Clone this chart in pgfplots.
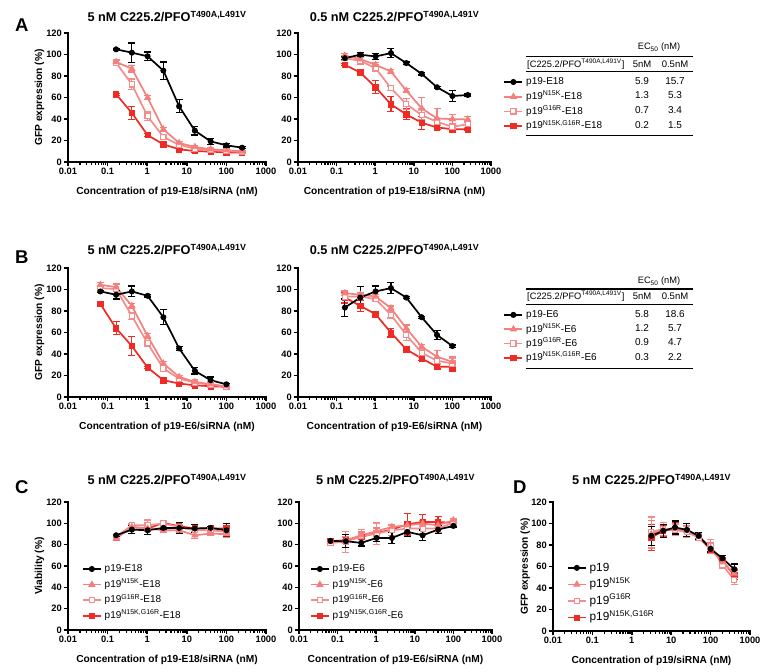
\documentclass[border=0pt]{standalone}
\usepackage{fontspec}
\setmainfont{Liberation Sans}
\usepackage{pgfplots}
\pgfplotsset{compat=1.18}
\definecolor{ctri}{RGB}{244,128,125}
\definecolor{csq}{RGB}{245,140,140}
\definecolor{cred}{RGB}{238,43,36}
\newcommand{\ttl}[1]{#1 nM C225.2/PFO\textsuperscript{T490A,L491V}}
\newcommand{\sups}[1]{\textsuperscript{#1}}
\pgfplotsset{
  mypanel/.style={
    scale only axis, xmin=0.01, xmax=1000, ymin=0, ymax=120,
    axis lines*=left,
    axis line style={line width=1.7pt, line cap=rect},
    xtick={0.01,0.1,1,10,100,1000},
    xticklabels={0.01,0.1,1,10,100,1000},
    minor xtick={0.02,0.03,0.04,0.05,0.06,0.07,0.08,0.09,0.2,0.3,0.4,0.5,0.6,0.7,0.8,0.9,2,3,4,5,6,7,8,9,20,30,40,50,60,70,80,90,200,300,400,500,600,700,800,900},
    ytick={0,20,40,60,80,100,120},
    yticklabels={0,20,40,60,80,100,120},
    tick align=outside,
    major tick length=4.5pt, minor tick length=3pt,
    major tick style={line width=1.5pt, black},
    minor tick style={line width=1.2pt, black},
    tick label style={font=\bfseries\fontsize{9.3}{10}\selectfont, inner sep=1.5pt},
    label style={font=\bfseries\fontsize{10.2}{12}\selectfont},
    title style={font=\bfseries\fontsize{12.7}{14}\selectfont, at={(0.5,1)}, anchor=base},
    xlabel style={at={(0.5,0)}, anchor=base, yshift=-33pt},
    clip=false,
    legend style={draw=none, fill=none, inner sep=0pt, outer sep=0pt, row sep=0pt, column sep=3pt,
      anchor=north west, font=\fontsize{10}{12}\selectfont,
      nodes={inner sep=0pt, text height=10pt, text depth=4.7pt}},
    legend cell align=left,
    legend image code/.code={\draw[mark repeat=2, mark phase=2, ##1] plot coordinates {(0pt,0pt) (9pt,0pt) (18pt,0pt)};},
    reverse legend,
  },
  myeb/.style={error bars/.cd, y dir=both, y explicit,
    error bar style={line width=1.2pt, solid},
    error mark options={rotate=90, line width=1.2pt, mark size=3.5pt}},
  sblk/.style={black, line width=1.7pt, mark=*, mark size=2.6pt, mark options={solid, line width=0.8pt}},
  stri/.style={ctri, line width=1.7pt, mark=triangle*, mark size=3.5pt, mark options={solid, line width=0.8pt}},
  ssq/.style={csq, line width=1.7pt, mark=square*, mark size=2.6pt, mark options={solid, fill=white, line width=1.1pt}},
  sred/.style={cred, line width=1.7pt, mark=square*, mark size=2.7pt, mark options={solid, line width=0.8pt}},
}
\begin{document}
\begin{tikzpicture}[x=1pt,y=1pt]
\path[use as bounding box] (0,0) rectangle (764,672);
% panel letters
\node[anchor=base west, font=\bfseries\fontsize{18.5}{20}\selectfont, inner sep=0pt] at (15pt,640.3pt) {A};
\node[anchor=base west, font=\bfseries\fontsize{18.5}{20}\selectfont, inner sep=0pt] at (15pt,408.7pt) {B};
\node[anchor=base west, font=\bfseries\fontsize{18.5}{20}\selectfont, inner sep=0pt] at (15pt,178.7pt) {C};
\node[anchor=base west, font=\bfseries\fontsize{18.5}{20}\selectfont, inner sep=0pt] at (513pt,178.7pt) {D};

% ---------------- A left
\begin{semilogxaxis}[mypanel, at={(68pt,510pt)}, anchor=south west, width=198pt, height=129pt,
  title={\ttl{5}}, title style={yshift=5pt},
  xlabel={Concentration of p19-E18/siRNA (nM)},
  ylabel={GFP expression (\%)}, ylabel style={at={(-0.131,0.5)}, anchor=base}]
\addplot[sred, myeb] coordinates {(0.164,63) +- (0,1) (0.41,45.6) +- (0,6) (1.024,25) +- (0,1.5) (2.56,16.4) +- (0,1) (6.4,11.8) +- (0,1) (16,10.2) +- (0,1) (40,9.6) +- (0,1) (100,9) +- (0,1) (250,8.7) +- (0,1)};
\addplot[ssq, myeb] coordinates {(0.164,92.4) +- (0,2) (0.41,72.2) +- (0,5) (1.024,42.5) +- (0,4) (2.56,23.3) +- (0,2) (6.4,16) +- (0,1) (16,12.4) +- (0,1) (40,10.9) +- (0,1) (100,10.2) +- (0,1) (250,9.3) +- (0,1)};
\addplot[stri, myeb] coordinates {(0.164,93) +- (0,2) (0.41,86.8) +- (0,3) (1.024,59.8) +- (0,2) (2.56,30.4) +- (0,2) (6.4,17.7) +- (0,1.5) (16,14) +- (0,1) (40,11.8) +- (0,1) (100,10.9) +- (0,1) (250,9.9) +- (0,1)};
\addplot[sblk, myeb] coordinates {(0.164,104.8) +- (0,1) (0.41,101.7) +- (0,9) (1.024,98.3) +- (0,4) (2.56,85) +- (0,8) (6.4,51.8) +- (0,6) (16,29.1) +- (0,4) (40,19.2) +- (0,3) (100,15.5) +- (0,1.5) (250,13.3) +- (0,1)};
\end{semilogxaxis}

% ---------------- A right
\begin{semilogxaxis}[mypanel, at={(298pt,510pt)}, anchor=south west, width=193pt, height=129pt,
  title={\ttl{0.5}}, title style={yshift=5pt},
  xlabel={Concentration of p19-E18/siRNA (nM)},
  legend style={at={(1.065,0.677)}}]
\addplot[sred, myeb] coordinates {(0.164,90.4) +- (0,1) (0.41,83.2) +- (0,1) (1.024,69.5) +- (0,6) (2.56,53.6) +- (0,7) (6.4,44.3) +- (0,5) (16,36.5) +- (0,6) (40,32.1) +- (0,2) (100,30.5) +- (0,2) (250,30.5) +- (0,1)};
\addlegendentry{p19\sups{N15K,G16R}-E18}
\addplot[ssq, myeb] coordinates {(0.164,96.6) +- (0,2) (0.41,94.1) +- (0,3) (1.024,87.3) +- (0,3) (2.56,68.6) +- (0,2) (6.4,53.9) +- (0,5) (16,43.6) +- (0,6) (40,37.4) +- (0,3) (100,32.7) +- (0,2) (250,35.2) +- (0,3)};
\addlegendentry{p19\sups{G16R}-E18}
\addplot[stri, myeb] coordinates {(0.164,99) +- (0,2) (0.41,95.7) +- (0,5) (1.024,90.4) +- (0,2) (2.56,84.2) +- (0,2) (6.4,66.4) +- (0,2) (16,49.9) +- (0,10) (40,40.5) +- (0,9) (100,39.9) +- (0,4) (250,39.6) +- (0,3)};
\addlegendentry{p19\sups{N15K}-E18}
\addplot[sblk, myeb] coordinates {(0.164,96.6) +- (0,1) (0.41,99.8) +- (0,2) (1.024,98.2) +- (0,3) (2.56,101.3) +- (0,4) (6.4,92) +- (0,1) (16,82) +- (0,1) (40,69.5) +- (0,1) (100,61.4) +- (0,5) (250,62.3) +- (0,1)};
\addlegendentry{p19-E18}
\end{semilogxaxis}

% ---------------- table A
\begin{scope}[every node/.style={inner sep=0pt, font=\fontsize{10}{12}\selectfont}]
\node[anchor=base, font=\fontsize{9.3}{11}\selectfont] at (659pt,622pt) {EC\textsubscript{50} (nM)};
\draw[line width=1.5pt] (526pt,615.3pt) -- (693pt,615.3pt);
\node[anchor=base west, font=\fontsize{9.3}{11}\selectfont] at (527pt,604.7pt) {[C225.2/PFO\sups{T490A,L491V}]};
\node[anchor=base, font=\fontsize{9.5}{11}\selectfont] at (642pt,604.7pt) {5nM};
\node[anchor=base, font=\fontsize{9.5}{11}\selectfont] at (675pt,604.7pt) {0.5nM};
\draw[line width=1.5pt] (526pt,600.3pt) -- (693pt,600.3pt);
\node[anchor=base] at (642pt,587.3pt) {5.9}; \node[anchor=base] at (675pt,587.3pt) {15.7};
\node[anchor=base] at (642pt,573pt) {1.3}; \node[anchor=base] at (675pt,573pt) {5.3};
\node[anchor=base] at (642pt,558.3pt) {0.7}; \node[anchor=base] at (675pt,558.3pt) {3.4};
\node[anchor=base] at (642pt,543pt) {0.2}; \node[anchor=base] at (675pt,543pt) {1.5};
\draw[line width=1.5pt] (526pt,536.7pt) -- (693pt,536.7pt);
\end{scope}

% ---------------- B left
\begin{semilogxaxis}[mypanel, at={(68pt,275pt)}, anchor=south west, width=198pt, height=129pt,
  title={\ttl{5}}, title style={yshift=7.5pt},
  xlabel={Concentration of p19-E6/siRNA (nM)},
  ylabel={GFP expression (\%)}, ylabel style={at={(-0.131,0.5)}, anchor=base}]
\addplot[sred, myeb] coordinates {(0.0655,86.6) +- (0,1) (0.164,63.9) +- (0,6) (0.41,47.4) +- (0,9) (1.024,27.4) +- (0,1) (2.56,15.6) +- (0,1) (6.4,12.5) +- (0,1) (16,10.9) +- (0,1) (40,10) +- (0,1) (100,9.4) +- (0,1)};
\addplot[ssq, myeb] coordinates {(0.0655,101.3) +- (0,2) (0.164,100.4) +- (0,5) (0.41,75.4) +- (0,3) (1.024,49.9) +- (0,2) (2.56,26.5) +- (0,2) (6.4,17.1) +- (0,1) (16,13.4) +- (0,1) (40,11.5) +- (0,1) (100,9.4) +- (0,1)};
\addplot[stri, myeb] coordinates {(0.0655,104.4) +- (0,2) (0.164,102.2) +- (0,3) (0.41,84.8) +- (0,2) (1.024,56.7) +- (0,2) (2.56,31.2) +- (0,2) (6.4,18.7) +- (0,1) (16,14) +- (0,1) (40,11.8) +- (0,1) (100,10) +- (0,1)};
\addplot[sblk, myeb] coordinates {(0.0655,98.2) +- (0,1) (0.164,95.1) +- (0,4) (0.41,98.2) +- (0,5) (1.024,94.1) +- (0,1) (2.56,74.2) +- (0,7) (6.4,45.2) +- (0,2) (16,24.3) +- (0,3) (40,15.6) +- (0,3) (100,11.8) +- (0,1)};
\end{semilogxaxis}

% ---------------- B right
\begin{semilogxaxis}[mypanel, at={(298pt,275pt)}, anchor=south west, width=193pt, height=129pt,
  title={\ttl{0.5}}, title style={yshift=7.5pt},
  xlabel={Concentration of p19-E6/siRNA (nM)},
  legend style={at={(1.065,0.692)}, nodes={text height=10pt, text depth=4.3pt}}]
\addplot[sred, myeb] coordinates {(0.164,92.5) +- (0,5) (0.41,84.8) +- (0,5) (1.024,77) +- (0,1) (2.56,59.8) +- (0,4) (6.4,44.3) +- (0,1) (16,35.8) +- (0,2) (40,28.1) +- (0,2) (100,28.1) +- (0,4)};
\addlegendentry{p19\sups{N15K,G16R}-E6}
\addplot[ssq, myeb] coordinates {(0.164,93.5) +- (0,3) (0.41,93.5) +- (0,3) (1.024,91) +- (0,2) (2.56,76.4) +- (0,3) (6.4,57.7) +- (0,5) (16,41.1) +- (0,3) (40,33.7) +- (0,3) (100,31.2) +- (0,5)};
\addlegendentry{p19\sups{G16R}-E6}
\addplot[stri, myeb] coordinates {(0.164,96.6) +- (0,2) (0.41,95.1) +- (0,2) (1.024,93.5) +- (0,2) (2.56,82.6) +- (0,2) (6.4,63.9) +- (0,3) (16,46.8) +- (0,2) (40,37.4) +- (0,6) (100,32.7) +- (0,5)};
\addlegendentry{p19\sups{N15K}-E6}
\addplot[sblk, myeb] coordinates {(0.164,83.2) +- (0,8) (0.41,92.5) +- (0,10) (1.024,98.2) +- (0,5) (2.56,101.3) +- (0,5) (6.4,92.5) +- (0,1) (16,74.2) +- (0,1) (40,57.7) +- (0,4) (100,47.4) +- (0,1)};
\addlegendentry{p19-E6}
\end{semilogxaxis}

% ---------------- table B
\begin{scope}[every node/.style={inner sep=0pt, font=\fontsize{10}{12}\selectfont}]
\node[anchor=base, font=\fontsize{9.3}{11}\selectfont] at (659pt,388pt) {EC\textsubscript{50} (nM)};
\draw[line width=1.5pt] (526pt,383pt) -- (693pt,383pt);
\node[anchor=base west, font=\fontsize{9.3}{11}\selectfont] at (527pt,372.7pt) {[C225.2/PFO\sups{T490A,L491V}]};
\node[anchor=base, font=\fontsize{9.5}{11}\selectfont] at (642pt,372.7pt) {5nM};
\node[anchor=base, font=\fontsize{9.5}{11}\selectfont] at (675pt,372.7pt) {0.5nM};
\draw[line width=1.5pt] (526pt,367.7pt) -- (693pt,367.7pt);
\node[anchor=base] at (642pt,354.3pt) {5.8}; \node[anchor=base] at (675pt,354.3pt) {18.6};
\node[anchor=base] at (642pt,340.3pt) {1.2}; \node[anchor=base] at (675pt,340.3pt) {5.7};
\node[anchor=base] at (642pt,326pt) {0.9}; \node[anchor=base] at (675pt,326pt) {4.7};
\node[anchor=base] at (642pt,311.3pt) {0.3}; \node[anchor=base] at (675pt,311.3pt) {2.2};
\draw[line width=1.5pt] (526pt,303.7pt) -- (693pt,303.7pt);
\end{scope}

% ---------------- C left
\begin{semilogxaxis}[mypanel, at={(68pt,42pt)}, anchor=south west, width=198pt, height=128pt,
  title={\ttl{5}}, title style={yshift=11pt},
  xlabel={Concentration of p19-E18/siRNA (nM)},
  ylabel={Viability (\%)}, ylabel style={at={(-0.131,0.5)}, anchor=base},
  legend style={at={(0.0707,0.535)}, row sep=0.6pt, nodes={text height=10pt, text depth=5pt}}]
\addplot[sred, myeb] coordinates {(0.164,86.6) +- (0,1) (0.41,96.6) +- (0,1) (1.024,95.1) +- (0,1) (2.56,100.4) +- (0,1) (6.4,97.3) +- (0,1) (16,95.1) +- (0,1) (40,95.1) +- (0,1) (100,95.1) +- (0,1)};
\addlegendentry{p19\sups{N15K,G16R}-E18}
\addplot[ssq, myeb] coordinates {(0.164,87.3) +- (0,2) (0.41,98.2) +- (0,2) (1.024,98.2) +- (0,5) (2.56,99.8) +- (0,2) (6.4,96.6) +- (0,2) (16,93.5) +- (0,2) (40,93.5) +- (0,2) (100,92) +- (0,3)};
\addlegendentry{p19\sups{G16R}-E18}
\addplot[stri, myeb] coordinates {(0.164,85.7) +- (0,2) (0.41,96.6) +- (0,2) (1.024,95.1) +- (0,3) (2.56,93.5) +- (0,2) (6.4,93.5) +- (0,2) (16,88.8) +- (0,3) (40,90.4) +- (0,2) (100,89.8) +- (0,3)};
\addlegendentry{p19\sups{N15K}-E18}
\addplot[sblk, myeb] coordinates {(0.164,88.8) +- (0,1) (0.41,94.1) +- (0,4) (1.024,93.5) +- (0,4) (2.56,95.7) +- (0,1) (6.4,95.7) +- (0,5) (16,95.1) +- (0,4) (40,95.7) +- (0,1) (100,93.5) +- (0,6)};
\addlegendentry{p19-E18}
\end{semilogxaxis}

% ---------------- C right
\begin{semilogxaxis}[mypanel, at={(299pt,42pt)}, anchor=south west, width=193pt, height=128pt,
  title={\ttl{5}}, title style={yshift=11pt},
  xlabel={Concentration of p19-E6/siRNA (nM)},
  legend style={at={(0.057,0.535)}, row sep=0.6pt, nodes={text height=10pt, text depth=5pt}}]
\addplot[sred, myeb] coordinates {(0.0655,83.2) +- (0,1) (0.164,84.2) +- (0,1) (0.41,87.3) +- (0,1) (1.024,91) +- (0,1) (2.56,94.1) +- (0,1) (6.4,99.1) +- (0,10) (16,101.3) +- (0,7) (40,101.3) +- (0,5) (100,100.4) +- (0,1)};
\addlegendentry{p19\sups{N15K,G16R}-E6}
\addplot[ssq, myeb] coordinates {(0.0655,81.7) +- (0,2) (0.164,82.6) +- (0,10) (0.41,87.9) +- (0,6) (1.024,90.4) +- (0,10) (2.56,93.5) +- (0,5) (6.4,95.1) +- (0,5) (16,95.1) +- (0,5) (40,95.1) +- (0,4) (100,100.7) +- (0,2)};
\addlegendentry{p19\sups{G16R}-E6}
\addplot[stri, myeb] coordinates {(0.0655,82.6) +- (0,2) (0.164,84.2) +- (0,3) (0.41,88.8) +- (0,3) (1.024,92.6) +- (0,3) (2.56,96.6) +- (0,2) (6.4,98.2) +- (0,3) (16,99.8) +- (0,3) (40,98.2) +- (0,2) (100,102.9) +- (0,2)};
\addlegendentry{p19\sups{N15K}-E6}
\addplot[sblk, myeb] coordinates {(0.0655,83.5) +- (0,1) (0.164,83.2) +- (0,6) (0.41,81.7) +- (0,3) (1.024,86.3) +- (0,3) (2.56,86.3) +- (0,5) (6.4,92) +- (0,4) (16,88.8) +- (0,5) (40,94.1) +- (0,4) (100,97.6) +- (0,1)};
\addlegendentry{p19-E6}
\end{semilogxaxis}

% ---------------- D
\begin{semilogxaxis}[mypanel, at={(553pt,41pt)}, anchor=south west, width=197pt, height=129pt,
  title={\ttl{5}}, title style={yshift=11.3pt},
  xlabel={Concentration of p19/siRNA (nM)},
  ylabel={GFP expression (\%)}, ylabel style={at={(-0.127,0.5)}, anchor=base},
  legend style={at={(0.071,0.55)}, row sep=1pt, font=\fontsize{11.8}{13}\selectfont, nodes={text height=11pt, text depth=4.6pt}}]
\addplot[sred, myeb] coordinates {(3.125,87) +- (0,12) (6.25,93) +- (0,5) (12.5,95) +- (0,6) (25,93) +- (0,5) (50,87) +- (0,3) (100,76) +- (0,4) (200,65) +- (0,3) (400,52) +- (0,4)};
\addlegendentry{p19\sups{N15K,G16R}}
\addplot[ssq, myeb] coordinates {(3.125,92) +- (0,14) (6.25,95) +- (0,6) (12.5,94) +- (0,5) (25,92) +- (0,5) (50,87) +- (0,3) (100,79) +- (0,6) (200,61.4) +- (0,3) (400,47.4) +- (0,4)};
\addlegendentry{p19\sups{G16R}}
\addplot[stri, myeb] coordinates {(3.125,90) +- (0,13) (6.25,94) +- (0,5) (12.5,95) +- (0,5) (25,93) +- (0,5) (50,88) +- (0,3) (100,77) +- (0,5) (200,64) +- (0,3) (400,53.6) +- (0,4)};
\addlegendentry{p19\sups{N15K}}
\addplot[sblk, myeb] coordinates {(3.125,88.5) +- (0,9) (6.25,93.2) +- (0,6) (12.5,96.3) +- (0,6) (25,94.1) +- (0,6) (50,88.5) +- (0,3) (100,76.4) +- (0,3) (200,67.6) +- (0,3) (400,57.4) +- (0,5)};
\addlegendentry{p19}
\end{semilogxaxis}
\end{tikzpicture}
\end{document}
